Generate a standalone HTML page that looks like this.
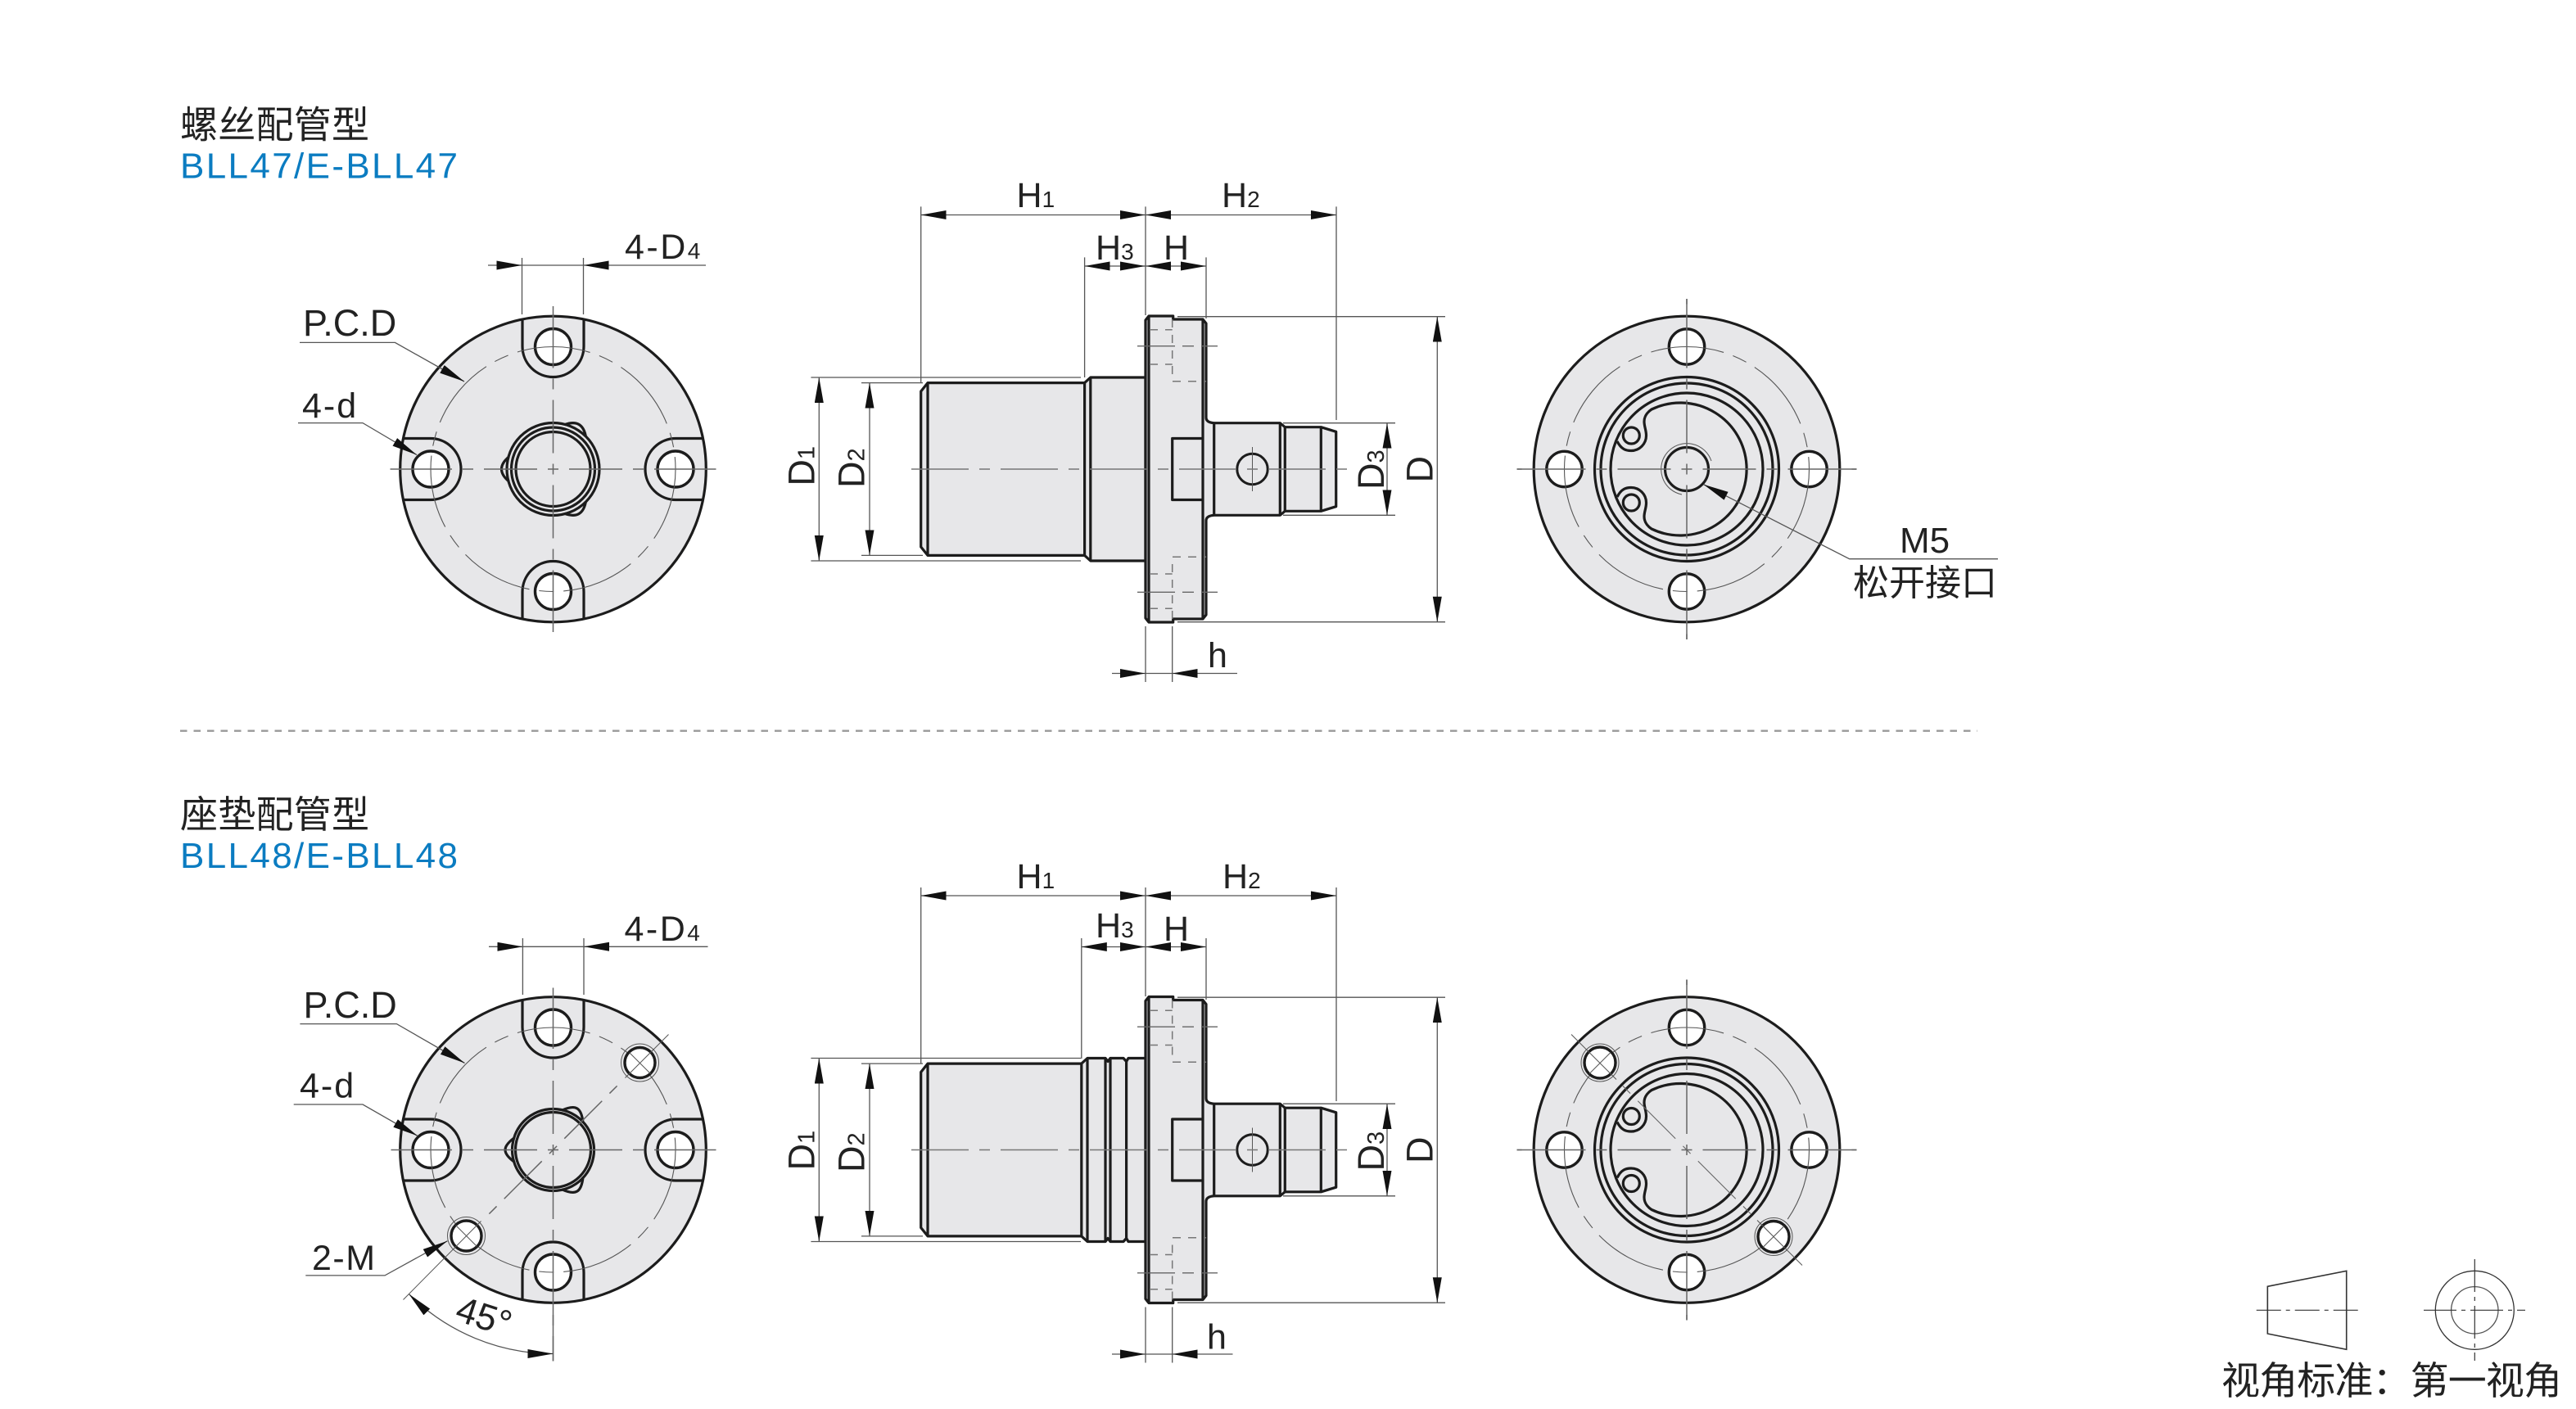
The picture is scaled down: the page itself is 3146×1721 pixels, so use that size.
<!DOCTYPE html>
<html lang="zh">
<head>
<meta charset="utf-8">
<title>BLL47 / BLL48</title>
<style>
html,body{margin:0;padding:0;background:#fff}
svg{display:block}
text{font-family:"Liberation Sans","Noto Sans CJK SC",sans-serif;fill:#222;font-size:43px}
.cjk{font-family:"Liberation Sans","Noto Sans CJK SC",sans-serif;font-size:46px}
.blue{fill:#0b7cc1;font-size:44px}
.rd{font-size:45px}
.s{stroke:#1c1c1c;stroke-width:3.2;fill:none;stroke-linejoin:round}
.f{fill:#e7e7e9;stroke:#1c1c1c;stroke-width:3.2;stroke-linejoin:round}
.d{stroke:#555;stroke-width:1.3;fill:none}
.cl{stroke:#666;stroke-width:1.5;fill:none;stroke-dasharray:6.5 13 65 13 6.5 0}
.e{stroke:#666;stroke-width:1.5;fill:none}
.hid{stroke:#777;stroke-width:1.5;fill:none;stroke-dasharray:10 9}
.pcd{stroke:#555;stroke-width:1.1;fill:none;stroke-dasharray:90 12 18 12}
.w{fill:#fff;stroke:#1c1c1c;stroke-width:3.4}
.t{stroke:#555;stroke-width:1;fill:none}
</style>
</head>
<body>
<svg xmlns="http://www.w3.org/2000/svg" width="3146" height="1721" viewBox="0 0 3146 1721">
<defs>
<marker id="a" markerUnits="userSpaceOnUse" markerWidth="32" markerHeight="12" refX="31" refY="5.5" orient="auto-start-reverse"><path d="M0,0L31,5.5L0,11Z" fill="#111"/></marker>

<g id="leftbase">
  <circle r="186.8" class="f" stroke-width="3.6"/>
  <g id="slot4">
    <path id="sl" class="s" d="M-37.5,-183.2V-150A37.5,37.5 0 0 0 37.5,-150V-183.2"/>
    <use href="#sl" transform="rotate(90)"/>
    <use href="#sl" transform="rotate(180)"/>
    <use href="#sl" transform="rotate(270)"/>
  </g>
  <circle cx="0" cy="-149.5" r="22" class="w"/>
  <circle cx="0" cy="149.5" r="22" class="w"/>
  <circle cx="-149.5" cy="0" r="22" class="w"/>
  <circle cx="149.5" cy="0" r="22" class="w"/>
  <circle r="149.5" class="pcd"/>
</g>

<path id="lobe1" class="f" d="M-54,-15C-60,-10 -63,-5 -63,0C-63,5 -60,10 -54,15"/>
<path id="lobe2" class="f" d="M-47,-15C-54,-10 -58.5,-5 -58.5,0C-58.5,5 -54,10 -47,15"/>

<g id="rightbase">
  <circle r="186.8" class="f"/>
  <circle cx="0" cy="-149.5" r="21.7" class="w"/>
  <circle cx="0" cy="149.5" r="21.7" class="w"/>
  <circle cx="-149.5" cy="0" r="21.7" class="w"/>
  <circle cx="149.5" cy="0" r="21.7" class="w"/>
  <circle r="149.5" class="pcd"/>
  <circle r="112.5" class="s"/>
  <circle r="105" class="s"/>
  <circle r="93" class="s"/>
  <path class="s" d="M-85,-34C-80,-24 -74,-22.5 -68,-22.5A18.5,18.5 0 0 0 -49.5,-41C-49.5,-48 -52,-52 -52,-58C-52,-66 -46,-71 -43,-73A81,81 0 1 1 -43,73C-46,71 -52,66 -52,58C-52,52 -49.5,48 -49.5,41A18.5,18.5 0 0 0 -68,22.5C-74,22.5 -80,24 -85,34"/>
  <circle cx="-67.7" cy="-41" r="10" class="s" stroke-width="2.6"/>
  <circle cx="-67.7" cy="41" r="10" class="s" stroke-width="2.6"/>
</g>

<g id="hidden">
  <path class="hid" d="M1404,-170.3H1431.7M1404,-128H1431.7M1431.7,-183V-107.3H1473"/>
  <path d="M1389,-150.3H1487" stroke="#666" stroke-width="1.4" fill="none" stroke-dasharray="46 9 14 9"/>
</g>

<g id="flange">
  <path class="f" d="M1399,-182L1403,-187H1432.7V-183H1469L1473,-178V-63Q1473,-57 1482.7,-56.3H1563.3L1569.3,-51.3H1613.3L1631.7,-45.7V45.7L1613.3,51.3H1569.3L1563.3,56.3H1482.7Q1473,57 1473,63V178L1469,183H1432.7V187H1403L1399,182Z"/>
  <path class="s" d="M1403,-187V187M1469,-183V183M1482.7,-56.3V56.3M1563.3,-56.3V56.3M1569.3,-51.3V51.3M1613.3,-51.3V51.3"/>
  <path class="s" d="M1469,-37.5H1431.7V37.5H1469"/>
  <circle cx="1529.5" cy="0" r="18.7" fill="none" stroke="#1c1c1c" stroke-width="3"/>
  <path class="t" d="M1529.5,-27V27"/>
  <use href="#hidden"/>
  <use href="#hidden" transform="scale(1,-1)"/>
  <path class="d" d="M1438,-186.3H1765M1438,186.7H1765M1567,-56.3H1704M1567,56.3H1704"/>
  <path class="d" d="M1399,192V260M1431.7,192V260"/>
  <path class="d" d="M1358,249.5H1399" marker-end="url(#a)"/>
  <path class="d" d="M1399,249.5H1431.7"/>
  <path class="d" d="M1062,-105.4V105.4" marker-start="url(#a)" marker-end="url(#a)"/>
  <path class="d" d="M1000.3,-112V112" marker-start="url(#a)" marker-end="url(#a)"/>
  <path class="d" d="M1694,-56.3V56.3" marker-start="url(#a)" marker-end="url(#a)"/>
  <path class="d" d="M1755.3,-186.3V186.7" marker-start="url(#a)" marker-end="url(#a)"/>
  <path class="d" d="M990.4,-112H1320M990.4,112H1320M1052,-105.4H1127M1052,105.4H1127"/>
  <path d="M1113,0H1648" stroke="#777" stroke-width="1.5" fill="none" stroke-dasharray="70 13 13 13"/>
</g>
</defs>

<!-- titles -->
<text class="cjk" x="220" y="168.5" textLength="231">螺丝配管型</text>
<text class="blue" x="220" y="217.5" textLength="339">BLL47/E-BLL47</text>
<line x1="220" y1="892.7" x2="2415" y2="892.7" stroke="#999" stroke-width="2.4" stroke-dasharray="8.5 8"/>
<text class="cjk" x="220" y="1011" textLength="231">座垫配管型</text>
<text class="blue" x="220" y="1060" textLength="339">BLL48/E-BLL48</text>

<!-- ROW 1 LEFT -->
<g transform="translate(675.5,573)">
  <use href="#leftbase"/>
  <use href="#lobe1"/>
  <use href="#lobe1" transform="rotate(120)"/>
  <use href="#lobe1" transform="rotate(240)"/>
  <circle r="56.5" class="s"/>
  <circle r="51" class="s"/>
  <circle r="45.5" class="s"/>
  <path class="cl" d="M0,0H-199M0,0H199M0,0V-199M0,0V199"/>
  <path class="e" d="M-199,0H-185M185,0H199M0,-199V-185M0,185V199"/>
</g>
<path class="d" d="M596,324H637.5" marker-end="url(#a)"/>
<path class="d" d="M862,324H712.5" marker-end="url(#a)"/>
<path class="d" d="M637.5,324H712.5M637.5,315V384M712.5,315V384"/>
<path class="d" d="M366,418.4H482.5L567,466" marker-end="url(#a)"/>
<path class="d" d="M364,516.6H443L509,555.6" marker-end="url(#a)"/>
<text x="763" y="316" letter-spacing="2.5">4-D<tspan font-size="28">4</tspan></text>
<text x="370" y="410" style="font-size:45px">P.C.D</text>
<text x="369" y="510" letter-spacing="2">4-d</text>

<!-- ROW 1 SIDE -->
<g transform="translate(0,573)">
  <path class="f" d="M1331.8,-112L1324.6,-105.4H1133L1124.7,-95V95L1133,105.4H1324.6L1331.8,112H1399V-112Z"/>
  <path class="s" d="M1133,-105.4V105.4M1324.6,-105.4V105.4M1331.8,-112V112"/>
  <use href="#flange"/>
</g>
<path class="d" d="M1124.7,262.5H1399" marker-start="url(#a)" marker-end="url(#a)"/>
<path class="d" d="M1399,262.5H1632" marker-start="url(#a)" marker-end="url(#a)"/>
<path class="d" d="M1324.6,325H1399" marker-start="url(#a)" marker-end="url(#a)"/>
<path class="d" d="M1399,325H1473" marker-start="url(#a)" marker-end="url(#a)"/>
<path class="d" d="M1124.7,252.4V467M1399,252.4V385M1632,252.4V513M1324.6,314.4V461M1473,314.4V389"/>
<path class="d" d="M1511,822.5H1431.7" marker-end="url(#a)"/>
<text x="1241.5" y="253">H<tspan font-size="28">1</tspan></text>
<text x="1492" y="253">H<tspan font-size="28">2</tspan></text>
<text x="1338" y="317">H<tspan font-size="28">3</tspan></text>
<text x="1421" y="317">H</text>
<text x="1475" y="815">h</text>
<text class="rd" transform="translate(994.3,593.6) rotate(-90)">D<tspan font-size="29">1</tspan></text>
<text class="rd" transform="translate(1055.5,596) rotate(-90)">D<tspan font-size="29">2</tspan></text>
<text class="rd" transform="translate(1690,598) rotate(-90)">D<tspan font-size="29">3</tspan></text>
<text class="rd" transform="translate(1749.5,589.5) rotate(-90)">D</text>

<!-- ROW 1 RIGHT -->
<g transform="translate(2060,573)">
  <use href="#rightbase"/>
  <circle r="26.5" class="s"/>
  <path class="t" d="M-6,31A31.5,31.5 0 1 1 30,-10"/>
  <path class="cl" d="M0,0H-207.5M0,0H207.5M0,0V-208M0,0V208"/>
  <path class="e" d="M-207.5,0H-185M185,0H207.5M0,-208V-185M0,185V208"/>
</g>
<path class="d" d="M2440,682.7H2258.7L2080.5,591.7" marker-end="url(#a)"/>
<text x="2320" y="675" style="font-size:44px">M5</text>
<text x="2263" y="727" style="font-size:44px" textLength="176">松开接口</text>

<!-- ROW 2 LEFT -->
<g transform="translate(675.5,1404.5)">
  <use href="#leftbase"/>
  <use href="#lobe2"/>
  <use href="#lobe2" transform="rotate(120)"/>
  <use href="#lobe2" transform="rotate(240)"/>
  <circle r="50" class="s"/>
  <circle r="46" class="s"/>
  <circle cx="106" cy="-106.5" r="18.5" class="w"/>
  <circle cx="-106" cy="105" r="18.5" class="w"/>
  <circle cx="106" cy="-106.5" r="23" class="t"/>
  <circle cx="-106" cy="105" r="23" class="t"/>
  <path class="cl" d="M0,0H-198M0,0H199M0,0V-198M0,0V258"/>
  <path class="cl" d="M0,0L85,-85M0,0L-85,85"/>
  <path class="e" d="M-198,0H-185M185,0H199M0,-198V-185M0,185V258"/>
  <path class="t" d="M88,-88L141,-141M-88,87L-183,183M93,-119L119,-93M-119,92L-93,118"/>
</g>
<path class="d" d="M597,1156.3H638.4" marker-end="url(#a)"/>
<path class="d" d="M864.5,1156.3H713" marker-end="url(#a)"/>
<path class="d" d="M638.4,1156.3H713M638.4,1146V1215M713,1146V1215"/>
<path class="d" d="M366.4,1250.6H484.4L567.5,1298.5" marker-end="url(#a)"/>
<path class="d" d="M358.7,1349H443L510,1387.4" marker-end="url(#a)"/>
<path class="d" d="M373.3,1557.9H470L546.5,1515.7" marker-end="url(#a)"/>
<path class="d" d="M499.4,1580.6A249,249 0 0 0 675.5,1653.5" marker-start="url(#a)" marker-end="url(#a)"/>
<text x="762.5" y="1149" letter-spacing="2.5">4-D<tspan font-size="28">4</tspan></text>
<text x="370.5" y="1243" style="font-size:45px">P.C.D</text>
<text x="366" y="1340.5" letter-spacing="2">4-d</text>
<text x="381" y="1551" letter-spacing="1.5">2-M</text>
<text transform="translate(554,1612) rotate(18)" style="font-size:45px">45°</text>

<!-- ROW 2 SIDE -->
<g transform="translate(0,1404.5)">
  <path class="f" d="M1328,-112L1320.8,-105.4H1133L1124.7,-95V95L1133,105.4H1320.8L1328,112H1350L1353,108L1356,112H1372L1375.6,108L1378,112H1399V-112H1378L1375.6,-108L1372,-112H1356L1353,-108L1350,-112Z"/>
  <path class="s" d="M1133,-105.4V105.4M1320.8,-105.4V105.4M1328,-112V112M1350,-112V112M1356,-112V112M1375.6,-108V108"/>
  <use href="#flange"/>
</g>
<path class="d" d="M1124.7,1094H1399" marker-start="url(#a)" marker-end="url(#a)"/>
<path class="d" d="M1399,1094H1632" marker-start="url(#a)" marker-end="url(#a)"/>
<path class="d" d="M1320.8,1156.5H1399" marker-start="url(#a)" marker-end="url(#a)"/>
<path class="d" d="M1399,1156.5H1473" marker-start="url(#a)" marker-end="url(#a)"/>
<path class="d" d="M1124.7,1084V1299M1399,1084V1217M1632,1084V1345M1320.8,1146V1293M1473,1146V1221"/>
<path class="d" d="M1505.5,1654H1431.7" marker-end="url(#a)"/>
<text x="1241.5" y="1085">H<tspan font-size="28">1</tspan></text>
<text x="1493" y="1085">H<tspan font-size="28">2</tspan></text>
<text x="1338" y="1145">H<tspan font-size="28">3</tspan></text>
<text x="1421" y="1149">H</text>
<text x="1474" y="1647.5">h</text>
<text class="rd" transform="translate(994.3,1429.5) rotate(-90)">D<tspan font-size="29">1</tspan></text>
<text class="rd" transform="translate(1055.5,1432) rotate(-90)">D<tspan font-size="29">2</tspan></text>
<text class="rd" transform="translate(1690,1430.5) rotate(-90)">D<tspan font-size="29">3</tspan></text>
<text class="rd" transform="translate(1749.5,1421) rotate(-90)">D</text>

<!-- ROW 2 RIGHT -->
<g transform="translate(2060,1404.5)">
  <use href="#rightbase"/>
  <circle cx="-106" cy="-106.5" r="19" class="w"/>
  <circle cx="106" cy="106" r="19" class="w"/>
  <circle cx="-106" cy="-106.5" r="23" class="t"/>
  <circle cx="106" cy="106" r="23" class="t"/>
  <path class="cl" d="M0,0H-207.5M0,0H207.5M0,0V-208M0,0V208"/>
  <path class="e" d="M-207.5,0H-185M185,0H207.5M0,-208V-185M0,185V208"/>
  <path class="cl" d="M0,0L-82,-82M0,0L82,82" style="stroke-width:1.1"/>
  <path class="t" d="M-86,-86L-141,-141M86,86L141,141M-119,-93L-93,-119M93,119L119,93"/>
</g>

<!-- VIEW SYMBOL -->
<path d="M2769.3,1571.3L2865.7,1552.3V1648.3L2769.3,1629Z" fill="none" stroke="#333" stroke-width="1.6"/>
<path d="M2755.7,1600.3H2880" stroke="#333" stroke-width="1.2" fill="none" stroke-dasharray="30 6 5 6"/>
<circle cx="3022.3" cy="1600.3" r="48" fill="none" stroke="#333" stroke-width="1.3"/>
<circle cx="3022.3" cy="1600.3" r="28.7" fill="none" stroke="#555" stroke-width="1.3"/>
<path d="M2960,1600.3H3084M3022.3,1538V1662" stroke="#333" stroke-width="1.2" fill="none" stroke-dasharray="40 6 5 6"/>
<text class="cjk" x="2713" y="1703" textLength="416" style="font-size:47px">视角标准：第一视角</text>
</svg>
</body>
</html>
